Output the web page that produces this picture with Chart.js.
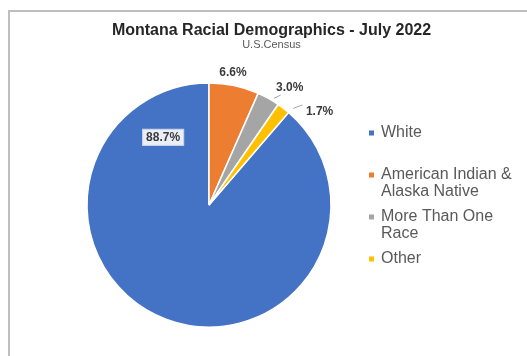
<!DOCTYPE html>
<html>
<head>
<meta charset="utf-8">
<title>Montana Racial Demographics - July 2022</title>
<script src="https://cdn.jsdelivr.net/npm/chart.js"></script>
<style>
  html, body { margin: 0; background: #fff; overflow: hidden; }
  .khung { position: absolute; left: 8px; top: 10px; width: 540px; height: 360px;
           border-top: 2px solid #bfbfbf; border-left: 2px solid #bfbfbf; }
  #raceChart { position: absolute; left: 0; top: 0; }
</style>
</head>
<body>
<div class="khung"></div>
<canvas id="raceChart" width="527" height="356"></canvas>
<script>
// Dữ liệu dân số Montana theo chủng tộc (%)
const categories = ['White', 'American Indian & Alaska Native', 'More Than One Race', 'Other'];
const percentages = [88.7, 6.6, 3.0, 1.7];
const sliceColors = ['#4472C4', '#ED7D31', '#A5A5A5', '#FFC000'];

const FONT = "'Liberation Sans', Arial, sans-serif";

// Vị trí nhãn: t = tỉ lệ dọc theo cung, k = tỉ lệ bán kính; line = đường dẫn [t1, k1, t2, k2]
const labelPlace = [
    { t: 0.893, k: 0.67, box: true },
    { t: 0.43, k: 1.107 },
    { t: 0.99, k: 1.17, line: [0.70, 1.024, 0.865, 1.076] },
    { t: 2.46, k: 1.19, line: [1.065, 1.05, 1.39, 1.123] }
];

function diemTrenCung(arc, t, k) {
    const a = arc.startAngle + (arc.endAngle - arc.startAngle) * t;
    const r = arc.outerRadius * k;
    return { x: arc.x + Math.cos(a) * r, y: arc.y + Math.sin(a) * r };
}

// Ngắt dòng chú giải theo chiều rộng
function ngatDong(ctx, text, maxWidth) {
    const words = text.split(' ');
    const lines = [];
    let cur = '';
    words.forEach(w => {
        const thu = cur ? cur + ' ' + w : w;
        if (cur && ctx.measureText(thu).width > maxWidth) {
            lines.push(cur);
            cur = w;
        } else {
            cur = thu;
        }
    });
    lines.push(cur);
    return lines;
}

// Chú giải bên phải, đặt như một hộp layout của Chart.js
const chuGiai = {
    id: 'chuGiai',
    beforeInit(chart) {
        const box = {
            position: 'right',
            weight: 0,
            fullSize: false,
            options: {},
            isHorizontal() { return false; },
            update(maxWidth, maxHeight) {
                this.width = 125;
                this.height = maxHeight;
            },
            draw() {
                const ctx = chart.ctx;
                const colors = chart.data.datasets[0].backgroundColor;
                ctx.save();
                ctx.font = '16px ' + FONT;
                ctx.textBaseline = 'middle';
                let y = this.top + 79;
                chart.data.labels.forEach((label, i) => {
                    const lines = ngatDong(ctx, label, 140);
                    ctx.fillStyle = colors[i];
                    ctx.fillRect(this.left - 33, y - 2.5, 5, 5);
                    ctx.fillStyle = '#595959';
                    lines.forEach((ln, j) => ctx.fillText(ln, this.left - 21, y + j * 16.5));
                    y += 42;
                });
                ctx.restore();
            }
        };
        Chart.layouts.addBox(chart, box);
    }
};

// Nhãn phần trăm trên từng lát
const nhanPhanTram = {
    id: 'nhanPhanTram',
    afterDatasetsDraw(chart) {
        const ctx = chart.ctx;
        const arcs = chart.getDatasetMeta(0).data;
        const values = chart.data.datasets[0].data;
        ctx.save();
        ctx.font = 'bold 12px ' + FONT;
        ctx.textAlign = 'center';
        ctx.textBaseline = 'middle';
        arcs.forEach((arc, i) => {
            const p = labelPlace[i];
            const props = arc.getProps(['x', 'y', 'startAngle', 'endAngle', 'outerRadius'], true);
            const text = values[i].toFixed(1) + '%';
            const pos = diemTrenCung(props, p.t, p.k);
            if (p.line) {
                const a = diemTrenCung(props, p.line[0], p.line[1]);
                const b = diemTrenCung(props, p.line[2], p.line[3]);
                ctx.strokeStyle = '#a6a6a6';
                ctx.lineWidth = 1;
                ctx.beginPath();
                ctx.moveTo(a.x, a.y);
                ctx.lineTo(b.x, b.y);
                ctx.stroke();
            }
            if (p.box) {
                const w = ctx.measureText(text).width + 8;
                const h = 17;
                ctx.fillStyle = '#eaeef7';
                ctx.strokeStyle = '#c4cfe6';
                ctx.lineWidth = 1;
                ctx.fillRect(pos.x - w / 2, pos.y - h / 2, w, h);
                ctx.strokeRect(pos.x - w / 2 + 0.5, pos.y - h / 2 + 0.5, w - 1, h - 1);
            }
            ctx.fillStyle = '#3a3a3a';
            ctx.fillText(text, pos.x, pos.y + 0.5);
        });
        ctx.restore();
    }
};

document.addEventListener("DOMContentLoaded", function() {
    const ctx = document.getElementById('raceChart').getContext('2d');
    const tong = percentages.reduce((a, b) => a + b, 0);

    const chartData = {
        labels: categories,
        datasets: [{
            data: percentages,
            backgroundColor: sliceColors,
            borderColor: '#ffffff',
            borderWidth: 1.5
        }]
    };

    const chartOptions = {
        responsive: false,
        animation: false,
        events: [],
        radius: 122,
        // lát "White" kết thúc ở đỉnh 12 giờ
        rotation: 360 - percentages[0] / tong * 360,
        layout: { padding: { left: 16, right: 0, top: 0, bottom: 0 } },
        plugins: {
            legend: { display: false },
            tooltip: { enabled: false },
            title: {
                display: true,
                text: 'Montana Racial Demographics - July 2022',
                color: '#262626',
                font: { family: FONT, size: 16, weight: 'bold', lineHeight: 1 },
                padding: { top: 22.5, bottom: 0 }
            },
            subtitle: {
                display: true,
                text: 'U.S.Census',
                color: '#595959',
                font: { family: FONT, size: 11, lineHeight: 1 },
                padding: { top: 1, bottom: 3.5 }
            }
        }
    };

    // Vẽ biểu đồ tròn
    const raceChart = new Chart(ctx, {
        type: 'pie',
        data: chartData,
        options: chartOptions,
        plugins: [chuGiai, nhanPhanTram]
    });
});
</script>
</body>
</html>
